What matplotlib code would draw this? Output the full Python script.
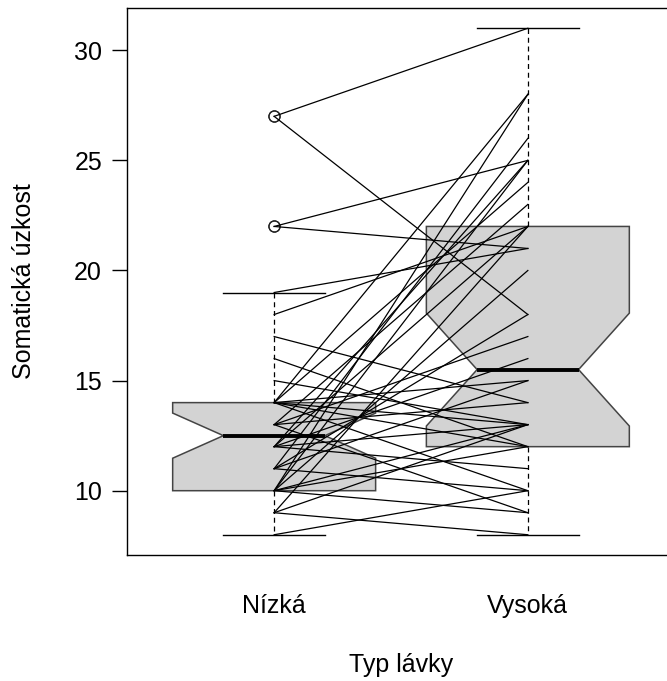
import matplotlib as mpl
import matplotlib.pyplot as plt
import numpy as np

mpl.use('Agg')
plt.rcParams['font.family'] = ['Liberation Sans', 'DejaVu Sans']

# paired scores: low walkway (Nízká) -> high walkway (Vysoká)
groups = ['Nízká', 'Vysoká']
nizka = [8, 9, 9, 9, 10, 10, 10, 10, 10, 10, 11, 11, 11, 11, 12, 12, 12, 12, 12,
         13, 13, 13, 13, 14, 14, 14, 14, 14, 14, 15, 16, 17, 18, 19, 22, 22, 27, 27]
vysoka = [10, 8, 13, 22, 9, 12, 13, 20, 25, 28, 10, 15, 18, 26, 11, 13, 16, 22, 25,
          9, 14, 17, 23, 10, 12, 13, 15, 24, 28, 13, 12, 14, 22, 21, 25, 21, 31, 18]


def fivenum(x):
    # Tukey hinges, like R's boxplot.stats
    x = np.sort(np.asarray(x, dtype=float))
    n = len(x)
    n4 = np.floor((n + 3) / 2) / 2
    d = np.array([1, n4, (n + 1) / 2, n + 1 - n4, n]) - 1
    return 0.5 * (x[np.floor(d).astype(int)] + x[np.ceil(d).astype(int)])


def box_stats(x):
    x = np.asarray(x, dtype=float)
    lo, q1, med, q3, hi = fivenum(x)
    iqr = q3 - q1
    inside = x[(x >= q1 - 1.5 * iqr) & (x <= q3 + 1.5 * iqr)]
    half = 1.58 * iqr / np.sqrt(len(x))
    return dict(med=med, q1=q1, q3=q3, whislo=inside.min(), whishi=inside.max(),
                fliers=x[(x < inside.min()) | (x > inside.max())],
                cilo=med - half, cihi=med + half)


stats = [box_stats(nizka), box_stats(vysoka)]

fig = plt.figure(figsize=(6.67, 6.81), dpi=100)
# the frame runs past the right edge of the picture, as in the original
ax = fig.add_axes([127 / 667, 126 / 681, 548 / 667, 547 / 681])

ax.bxp(stats, positions=[1, 2], widths=0.8, capwidths=0.4, shownotches=True,
       patch_artist=True,
       boxprops=dict(facecolor='#D3D3D3', edgecolor='#444444', linewidth=1.1),
       whiskerprops=dict(color='black', linewidth=0.9, linestyle=(0, (4, 3))),
       capprops=dict(color='black', linewidth=1.0),
       medianprops=dict(color='black', linewidth=2.8),
       flierprops=dict(marker='o', markerfacecolor='none', markeredgecolor='#222222',
                       markersize=8, markeredgewidth=0.9))

for a, b in zip(nizka, vysoka):
    ax.plot([1, 2], [a, b], color='black', linewidth=0.9, zorder=4)

ax.set_xlim(0.42, 2.58)
ax.set_ylim(7.08, 31.92)
ax.set_yticks([10, 15, 20, 25, 30])
ax.set_xticks([1, 2], groups)
ax.tick_params(axis='y', length=11, width=1.0, labelsize=18, pad=7)
ax.tick_params(axis='x', length=0, labelsize=18, pad=28)
for s in ax.spines.values():
    s.set_linewidth(1.0)

ax.set_xlabel('Typ lávky', fontsize=18, labelpad=25)
ax.set_ylabel('Somatická úzkost', fontsize=18, labelpad=27)

fig.savefig('out.png', dpi=100)
